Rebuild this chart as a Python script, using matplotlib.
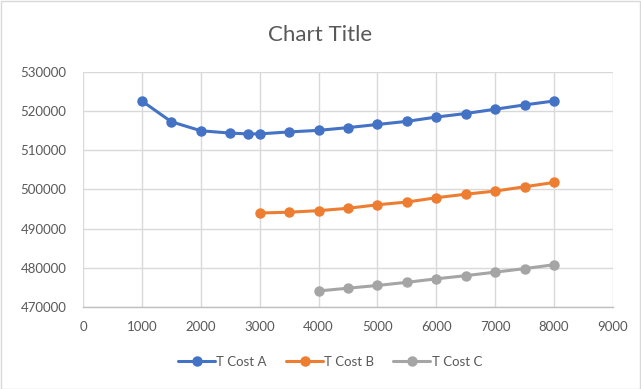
import matplotlib
matplotlib.use("Agg")
import matplotlib.pyplot as plt
from matplotlib.patches import Rectangle

plt.rcParams['font.family'] = ['Lato', 'DejaVu Sans']

# Quantities (x) and total cost series
x_a = [1000, 1500, 2000, 2500, 2800, 3000, 3500, 4000, 4500, 5000, 5500, 6000, 6500, 7000, 7500, 8000]
cost_a = [522600, 517300, 515000, 514400, 514200, 514200, 514700, 515100, 515800, 516600,
          517400, 518500, 519400, 520500, 521600, 522600]

x_b = [3000, 3500, 4000, 4500, 5000, 5500, 6000, 6500, 7000, 7500, 8000]
cost_b = [494000, 494200, 494600, 495200, 496100, 496800, 497900, 498800, 499600, 500700, 501800]

x_c = [4000, 4500, 5000, 5500, 6000, 6500, 7000, 7500, 8000]
cost_c = [474100, 474800, 475500, 476300, 477200, 478000, 478900, 479800, 480800]

labels = ["T Cost A", "T Cost B", "T Cost C"]
colors = ["#4472C4", "#ED7D31", "#A5A5A5"]

x_ticks = list(range(0, 9001, 1000))
y_ticks = list(range(470000, 530001, 10000))

W, H = 641, 389
fig = plt.figure(figsize=(W / 100, H / 100), dpi=100)
ax = fig.add_axes([83 / W, 1 - 307 / H, (613 - 83) / W, (307 - 72) / H])

for xs, ys, lab, col in zip([x_a, x_b, x_c], [cost_a, cost_b, cost_c], labels, colors):
    ax.plot(xs, ys, color=col, lw=2.2, marker='o', markersize=6.5, label=lab,
            solid_capstyle='round', zorder=3)

ax.set_xlim(0, 9000)
ax.set_ylim(470000, 530000)
ax.set_xticks(x_ticks)
ax.set_yticks(y_ticks)
ax.set_xticklabels([str(v) for v in x_ticks])
ax.set_yticklabels([str(v) for v in y_ticks])
ax.grid(True, color="#D9D9D9", lw=1, zorder=0)
ax.set_axisbelow(True)
for side in ['top', 'right', 'left']:
    ax.spines[side].set_visible(False)
ax.spines['bottom'].set_color("#BFBFBF")
ax.spines['bottom'].set_linewidth(1)
ax.tick_params(axis='both', length=0, labelsize=9.5, labelcolor="#595959")
ax.tick_params(axis='x', pad=10)
ax.tick_params(axis='y', pad=12)

fig.text(0.5, 1 - 35 / H, "Chart Title", ha='center', va='center',
         fontsize=16, color="#595959")

fig.legend(loc='center', bbox_to_anchor=(0.515, 1 - 362 / H), ncol=3, frameon=False,
           fontsize=9.5, labelcolor="#595959", handlelength=2.8, handletextpad=0.1,
           columnspacing=1.45)

fig.patches.append(Rectangle((0.5 / W, 0.5 / H), 1 - 1.5 / W, 1 - 1.5 / H,
                             transform=fig.transFigure, fill=False,
                             edgecolor="#D9D9D9", lw=1))

fig.savefig("out.png", dpi=100, facecolor="white")
